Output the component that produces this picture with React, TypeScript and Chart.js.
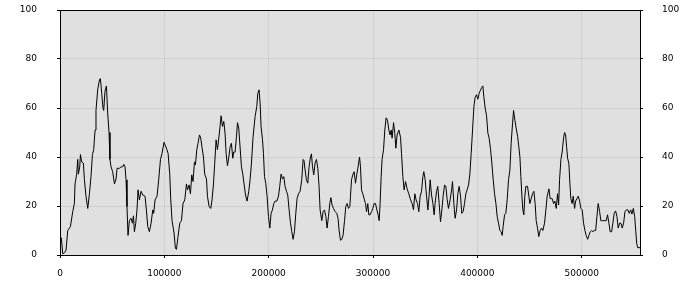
import { useEffect, useRef } from 'react';
import { Chart, registerables } from 'chart.js';

Chart.register(...registerables);

// x positions in thousands
const positionsK = [
  0, 1.3, 2.6, 4.5, 5.8, 7.4, 10.0, 12.2, 13.8, 14.4,
  16.0, 17.0, 17.6, 18.9, 19.6, 20.8, 22.4, 23.4, 24.9, 26.6,
  28.2, 29.7, 31.1, 32.3, 33.6, 34.5, 36.1, 37.8, 38.7, 40.0,
  41.2, 41.9, 43.1, 44.5, 45.7, 47.0, 47.9, 48.9, 50.5, 52.2,
  53.7, 54.7, 57.0, 58.5, 60.1, 61.1, 62.3, 63.3, 64.2, 65.2,
  66.5, 68.1, 69.4, 70.4, 71.3, 72.6, 73.8, 74.8, 76.1, 77.7,
  79.3, 81.5, 82.8, 84.1, 85.7, 87.3, 88.9, 89.8, 91.1, 93.0,
  94.6, 96.3, 97.8, 99.7, 102.0, 103.6, 105.2, 106.1, 107.4, 109.3,
  110.6, 111.6, 113.1, 114.8, 116.4, 117.9, 119.6, 121.2, 122.2, 123.7,
  125.0, 126.3, 127.5, 128.9, 129.8, 131.1, 132.3, 133.7, 134.9, 136.1,
  137.5, 138.7, 140.4, 141.3, 142.9, 144.5, 145.7, 147.1, 148.3, 149.6,
  150.9, 152.2, 153.4, 154.4, 155.7, 157.0, 158.2, 159.2, 160.5, 161.8,
  163.0, 164.3, 165.6, 166.5, 167.8, 169.1, 170.1, 171.3, 172.6, 173.9,
  175.2, 176.4, 177.8, 179.3, 180.9, 182.2, 183.5, 185.0, 187.0, 188.6,
  189.6, 190.8, 191.8, 192.7, 194.1, 195.0, 196.0, 197.2, 198.5, 199.8,
  201.1, 202.3, 203.6, 204.9, 206.1, 207.8, 209.4, 210.6, 211.9, 213.2,
  214.5, 215.7, 217.1, 218.3, 219.6, 220.9, 222.2, 223.4, 224.7, 226.0,
  227.2, 228.6, 230.1, 231.7, 233.0, 233.9, 234.9, 236.2, 237.5, 238.7,
  240.1, 241.0, 242.0, 243.2, 244.5, 245.8, 247.1, 248.3, 249.3, 250.9,
  252.2, 253.5, 254.8, 256.0, 257.3, 258.6, 259.6, 260.8, 262.1, 263.7,
  265.3, 266.5, 267.5, 268.8, 270.1, 271.3, 272.7, 273.9, 275.2, 276.5,
  277.8, 278.4, 279.4, 280.6, 281.9, 283.2, 284.5, 285.7, 287.1, 288.0,
  289.0, 290.2, 291.5, 292.8, 293.8, 295.0, 296.0, 297.2, 298.6, 299.8,
  301.1, 302.4, 303.7, 304.9, 305.9, 306.8, 307.8, 308.7, 310.1, 311.3,
  312.6, 313.9, 315.2, 316.4, 317.4, 318.3, 319.7, 320.9, 321.9, 323.1,
  324.8, 326.4, 327.3, 328.6, 329.8, 331.2, 332.7, 334.3, 336.0, 337.5,
  338.8, 340.1, 341.3, 342.7, 343.9, 345.2, 346.5, 347.8, 348.7, 350.0,
  351.3, 352.6, 353.8, 354.8, 356.1, 357.4, 358.6, 359.5, 360.9, 362.1,
  363.4, 364.7, 366.0, 367.2, 368.6, 369.8, 371.1, 372.3, 373.9, 375.3,
  376.2, 377.5, 378.7, 380.1, 381.3, 382.6, 383.9, 385.1, 386.4, 387.7,
  389.0, 390.2, 391.6, 392.8, 394.1, 395.4, 396.7, 397.9, 399.2, 400.5,
  401.7, 403.1, 404.3, 405.3, 406.2, 407.5, 408.8, 410.1, 411.3, 412.7,
  413.9, 415.2, 416.5, 417.8, 419.0, 420.3, 421.6, 422.8, 423.8, 424.7,
  426.1, 427.3, 428.6, 429.9, 431.2, 432.4, 433.8, 434.7, 436.0, 437.2,
  438.6, 439.8, 440.8, 441.7, 442.7, 443.6, 444.6, 445.5, 446.5, 448.1,
  449.4, 450.3, 451.6, 452.9, 454.2, 455.4, 456.4, 457.7, 458.9, 460.2,
  461.6, 462.8, 464.4, 465.7, 466.9, 468.6, 469.8, 471.7, 473.1, 474.3,
  475.6, 476.9, 477.9, 478.8, 480.1, 481.3, 482.7, 483.6, 484.6, 485.6,
  486.5, 487.7, 488.7, 489.6, 490.9, 491.9, 493.2, 494.2, 495.4, 496.7,
  498.0, 499.3, 500.5, 501.8, 503.1, 504.3, 505.7, 506.9, 508.2, 509.5,
  510.8, 512.0, 513.4, 514.6, 515.8, 517.2, 518.4, 519.7, 521.6, 523.5,
  524.8, 526.1, 527.3, 528.7, 529.9, 531.2, 532.5, 533.8, 535.0, 536.4,
  537.6, 538.9, 540.2, 541.5, 542.7, 544.3, 545.6, 547.0, 548.2, 549.5,
  550.8, 551.8, 552.7, 553.7, 555.9,
];

const values = [
  7.5, 7, 0.5, 1, 2, 10, 11.6, 17.7, 21, 29,
  33, 39, 33, 36, 41, 38, 37.5, 30.7, 24, 19,
  25, 32, 41, 43, 51, 59, 67.4, 71.5, 72, 66,
  60, 59, 66.8, 69, 58, 50, 39, 36, 34, 29,
  31, 35.4, 35.4, 36, 36, 37, 36, 30.7, 19.8, 8,
  14, 15, 13, 16, 9.5, 13, 18.4, 26.6, 22.5, 26,
  24.5, 24, 18.4, 11.6, 9.5, 13, 18.4, 17, 22.5, 24,
  30.7, 39, 41.5, 46, 43.6, 41.5, 33, 23, 14, 9,
  2.7, 2.3, 7.5, 13, 14, 21, 22.5, 29, 26.6, 28.6,
  25, 32.7, 30, 38, 36.8, 43, 45.6, 49, 47.7, 44,
  40, 33, 31, 24, 19.8, 19, 22.5, 29, 37.5, 47,
  43, 47.7, 52.5, 56.8, 52.5, 54.5, 49.7, 41.5, 36.4, 40,
  44, 45.6, 39.5, 42, 42, 48, 54, 51.8, 44, 36,
  33, 29, 24.5, 22, 26, 30.7, 37.5, 48, 56.5, 60.6,
  66, 67.4, 62, 52.5, 47, 41.5, 32, 29.3, 24, 15.7,
  11, 17, 18.4, 21, 22, 22, 24, 28, 33, 31,
  32, 28, 26, 24.5, 18.4, 13, 9.5, 6.4, 9.5, 17,
  23, 25, 26, 30.7, 39, 38.5, 34.7, 30.7, 29.3, 36,
  40, 41.3, 36, 32.7, 37.5, 39, 35.4, 28, 18.4, 14,
  17.7, 18.4, 15.7, 11, 15.7, 21, 23.4, 20.4, 19, 17.7,
  17, 15, 10, 6, 6.4, 8, 14, 19.8, 21, 19,
  19.8, 24, 30.7, 32.7, 34, 29.3, 33, 36, 40, 36,
  26.6, 25, 23, 21, 17.7, 21, 16.4, 16.4, 17.7, 19,
  21, 21, 18.4, 16.4, 14, 21, 32, 39, 43, 51,
  56, 55, 51, 49, 51, 47.7, 54, 49.7, 43.6, 49,
  51, 48, 41.5, 32, 26.6, 30, 27, 25, 22.5, 21,
  18.4, 25, 22.5, 21, 17.7, 24, 26, 32, 34, 30.7,
  24, 18.4, 24.5, 30.7, 24.5, 21, 16.4, 21, 26, 28,
  21, 13.6, 18.4, 24, 28.6, 28, 22.5, 19, 22.5, 26.6,
  30, 21, 15, 18.4, 25, 28, 24, 17, 17.7, 21,
  25, 26.6, 28.6, 33, 41.5, 51, 60.6, 64.4, 65.4, 63.6,
  66, 67.4, 68.4, 69, 64.7, 60, 57, 49.7, 47.7, 43,
  37.5, 30.7, 25, 21, 15.7, 13, 10, 9.5, 8, 11.6,
  16.4, 17, 22.5, 30.7, 34.7, 45.6, 54, 59, 55, 51.8,
  48.4, 44, 40, 32, 24, 18.4, 16.4, 24, 28, 28,
  24, 21, 23, 25, 26, 21, 14, 11, 7.5, 10,
  11, 10, 13, 18.4, 24, 27, 23, 23, 21, 22,
  19, 25, 20.4, 30.7, 39, 42, 48, 50, 49, 44,
  39.5, 37.5, 29.3, 23, 21, 24, 19, 22, 23, 24,
  22, 19, 18.4, 13, 10, 8, 6.4, 8, 9.5, 10,
  9.5, 10, 10, 15.7, 21, 17.7, 14, 14, 14, 14,
  16.4, 13, 9.5, 9.5, 13, 17, 18, 15.7, 11, 13,
  13, 11, 13, 17.7, 18.4, 18.4, 17, 18.4, 16.7, 19,
  15.7, 10, 4.8, 3, 3,
];

const xTicks = [0, 100000, 200000, 300000, 400000, 500000];
const yTicks = [0, 20, 40, 60, 80, 100];
const X_MAX = 555900;

const FONT = { family: "'DejaVu Sans', sans-serif", size: 9 };

const zeroPad = (s: any) => {
  s.paddingTop = 0;
  s.paddingBottom = 0;
  s.paddingLeft = 0;
  s.paddingRight = 0;
};

export default function App() {
  const ref = useRef<HTMLCanvasElement>(null);

  useEffect(() => {
    if (!ref.current) return;
    const data = positionsK.map((p, i) => ({ x: p * 1000, y: values[i] }));

    const frame = {
      id: 'frame',
      beforeDraw(c: any) {
        const { ctx, chartArea: a } = c;
        ctx.save();
        ctx.fillStyle = '#e0e0e0';
        ctx.fillRect(a.left, a.top, a.right - a.left, a.bottom - a.top);
        ctx.restore();
      },
      afterDraw(c: any) {
        const { ctx, chartArea: a } = c;
        ctx.save();
        ctx.strokeStyle = '#000';
        ctx.lineWidth = 1;
        ctx.beginPath();
        const t = Math.round(a.top) + 0.5;
        ctx.moveTo(a.left, t);
        ctx.lineTo(a.right, t);
        ctx.stroke();
        ctx.restore();
      },
    };

    const gridCommon = { color: '#d0d0d0', tickColor: '#000', tickLength: 3, lineWidth: 1 };

    const chart = new Chart(ref.current, {
      type: 'line',
      data: {
        datasets: [
          {
            data,
            borderColor: '#000',
            borderWidth: 1,
            pointRadius: 0,
            tension: 0,
            fill: false,
            yAxisID: 'y',
          },
        ],
      },
      options: {
        responsive: false,
        animation: false,
        layout: { padding: { top: 10, left: 0, right: 0, bottom: 0 } },
        plugins: { legend: { display: false }, tooltip: { enabled: false } },
        scales: {
          x: {
            type: 'linear',
            min: 0,
            max: X_MAX,
            afterBuildTicks: (s: any) => { s.ticks = xTicks.map((v) => ({ value: v })); },
            afterFit: (s: any) => { s.height = 45; zeroPad(s); },
            ticks: { callback: (v: any) => String(v), font: FONT, color: '#000', padding: 10, maxRotation: 0, autoSkip: false },
            grid: gridCommon,
            border: { color: '#000' },
          },
          y: {
            position: 'left',
            min: 0,
            max: 100,
            afterBuildTicks: (s: any) => { s.ticks = yTicks.map((v) => ({ value: v })); },
            afterFit: (s: any) => { s.width = 60; zeroPad(s); },
            ticks: { font: FONT, color: '#000', padding: 20 },
            grid: gridCommon,
            border: { color: '#000' },
          },
          y2: {
            position: 'right',
            min: 0,
            max: 100,
            afterBuildTicks: (s: any) => { s.ticks = yTicks.map((v) => ({ value: v })); },
            afterFit: (s: any) => { s.width = 60; zeroPad(s); },
            ticks: { font: FONT, color: '#000', padding: 19 },
            grid: { ...gridCommon, drawOnChartArea: false },
            border: { color: '#000' },
          },
        },
      },
      plugins: [frame],
    });
    return () => chart.destroy();
  }, []);

  return (
    <div style={{ position: 'fixed', left: 0, top: 0, width: 700, height: 300, background: '#fff' }}>
      <canvas ref={ref} width={700} height={300} style={{ display: 'block' }} />
    </div>
  );
}
